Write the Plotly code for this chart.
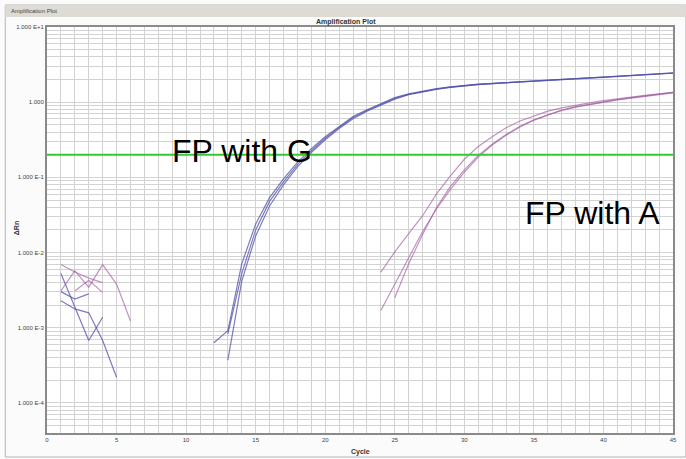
import plotly.graph_objects as go

# ---------------------------------------------------------------
# Real-time PCR amplification data (delta Rn per cycle), 6 wells.
# Each well: early baseline points, then the exponential/plateau
# phase; the gap between them holds values that vanish on a log axis.
# ---------------------------------------------------------------

# Wells amplified with the G probe (blue)
g1_base_cycles = [1, 2, 3, 4]
g1_base_rn = [5.25e-3, 1.86e-3, 6.76e-4, 1.38e-3]
g1_amp_start = 12
g1_amp_rn = [6.31e-4, 9.12e-4, 7.08e-3, 0.0240, 0.0537, 0.0955, 0.158, 0.240,
             0.347, 0.479, 0.646, 0.794, 0.955, 1.148, 1.288, 1.413, 1.514,
             1.603, 1.679, 1.738, 1.778, 1.828, 1.879, 1.928, 1.972, 2.018,
             2.065, 2.113, 2.163, 2.213, 2.265, 2.317, 2.371, 2.455]

g2_base_cycles = [1, 2, 3, 4, 5]
g2_base_rn = [2.29e-3, 1.78e-3, 1.58e-3, 6.76e-4, 2.19e-4]
g2_amp_start = 13
g2_amp_rn = [3.72e-4, 4.17e-3, 0.0166, 0.0417, 0.0794, 0.138, 0.214, 0.316,
             0.447, 0.603, 0.759, 0.912, 1.096, 1.259, 1.380, 1.479, 1.574,
             1.652, 1.714, 1.762, 1.811, 1.862, 1.910, 1.954, 2.000, 2.046,
             2.094, 2.143, 2.193, 2.244, 2.296, 2.355, 2.427]

g3_base_cycles = [1, 2, 3]
g3_base_rn = [3.02e-3, 2.40e-3, 2.82e-3]
g3_amp_start = 13
g3_amp_rn = [8.32e-4, 5.25e-3, 0.0200, 0.0479, 0.0871, 0.148, 0.226, 0.331,
             0.462, 0.624, 0.776, 0.933, 1.122, 1.274, 1.396, 1.496, 1.585,
             1.660, 1.722, 1.770, 1.820, 1.871, 1.919, 1.963, 2.009, 2.056,
             2.104, 2.153, 2.203, 2.254, 2.307, 2.360, 2.443]

# Wells amplified with the A probe (mauve)
a1_base_cycles = [1, 2, 3, 4]
a1_base_rn = [6.92e-3, 5.50e-3, 4.57e-3, 3.98e-3]
a1_amp_start = 24
a1_amp_rn = [5.50e-3, 0.0102, 0.0178, 0.0309, 0.0603, 0.105, 0.174, 0.257,
             0.347, 0.457, 0.562, 0.661, 0.759, 0.841, 0.912, 0.977, 1.047,
             1.109, 1.175, 1.230, 1.288, 1.349]

a2_base_cycles = [1, 2, 3, 4, 5, 6]
a2_base_rn = [3.09e-3, 5.75e-3, 3.47e-3, 6.92e-3, 3.80e-3, 1.23e-3]
a2_amp_start = 24
a2_amp_rn = [1.70e-3, 3.80e-3, 8.71e-3, 0.0191, 0.0380, 0.0692, 0.117, 0.186,
             0.269, 0.363, 0.468, 0.575, 0.676, 0.776, 0.861, 0.933, 1.000,
             1.072, 1.135, 1.202, 1.259, 1.334]

a3_base_cycles = [2, 3, 4]
a3_base_rn = [3.09e-3, 4.27e-3, 2.95e-3]
a3_amp_start = 25
a3_amp_rn = [2.51e-3, 7.08e-3, 0.0174, 0.0398, 0.0759, 0.126, 0.195, 0.275,
             0.372, 0.479, 0.582, 0.684, 0.785, 0.871, 0.944, 1.012, 1.084,
             1.148, 1.216, 1.274, 1.349]

threshold = 0.2

y_tick_vals = [1e-4, 1e-3, 1e-2, 1e-1, 1, 10]
y_tick_text = ["1.000 E-4", "1.000 E-3", "1.000 E-2", "1.000 E-1", "1.000", "1.000 E+1"]
x_tick_vals = [0, 5, 10, 15, 20, 25, 30, 35, 40, 45]

BLUE = "rgba(80,80,170,0.75)"
MAUVE = "rgba(160,90,160,0.65)"

wells = [
    (g1_base_cycles, g1_base_rn, g1_amp_start, g1_amp_rn, BLUE),
    (g2_base_cycles, g2_base_rn, g2_amp_start, g2_amp_rn, BLUE),
    (g3_base_cycles, g3_base_rn, g3_amp_start, g3_amp_rn, BLUE),
    (a1_base_cycles, a1_base_rn, a1_amp_start, a1_amp_rn, MAUVE),
    (a2_base_cycles, a2_base_rn, a2_amp_start, a2_amp_rn, MAUVE),
    (a3_base_cycles, a3_base_rn, a3_amp_start, a3_amp_rn, MAUVE),
]

fig = go.Figure()

for base_c, base_v, start, amp_v, color in wells:
    amp_c = list(range(start, start + len(amp_v)))
    xs = list(base_c) + [None] + amp_c
    ys = list(base_v) + [None] + list(amp_v)
    fig.add_trace(go.Scatter(x=xs, y=ys, mode="lines", connectgaps=False,
                             line=dict(color=color, width=1.2),
                             showlegend=False, hoverinfo="skip"))

# threshold line
fig.add_trace(go.Scatter(x=[0, 45], y=[threshold, threshold], mode="lines",
                         line=dict(color="#2ecc2e", width=2),
                         showlegend=False, hoverinfo="skip"))

# plot area spans 47..677 px horizontally, 27..433 px vertically
W, H = 686, 459
L, R, T, B = 47, 9, 27, 26
pw, ph = W - L - R, H - T - B


def px(x):
    return (x - L) / pw


def py(y):
    return (H - B - y) / ph


tick_font = dict(family="Liberation Sans, Arial, sans-serif", size=6, color="#444444")
grid = "#d2d2d2"

fig.update_layout(
    width=W, height=H,
    margin=dict(l=L, r=R, t=T, b=B),
    paper_bgcolor="#fbfbfb",
    plot_bgcolor="white",
    xaxis=dict(range=[0, 45], tickvals=x_tick_vals, ticks="", showgrid=True,
               gridcolor=grid, gridwidth=1, tickfont=tick_font,
               minor=dict(dtick=1, showgrid=True, gridcolor=grid, gridwidth=1),
               showline=True, linecolor="#8a8a8a", linewidth=2, mirror=True,
               zeroline=False),
    yaxis=dict(type="log", range=[-4.40, 1.0], tickvals=y_tick_vals,
               ticktext=y_tick_text, ticks="", showgrid=True, gridcolor=grid,
               gridwidth=1, tickfont=tick_font,
               minor=dict(tickvals=[m * 10 ** e for e in range(-5, 1) for m in range(2, 10)],
                          showgrid=True, gridcolor=grid, gridwidth=1),
               showline=True, linecolor="#8a8a8a", linewidth=2, mirror=True,
               zeroline=False),
    font=dict(family="Liberation Sans, Arial, sans-serif"),
)

# window frame and title bar
fig.add_shape(type="rect", xref="paper", yref="paper",
              x0=px(5), x1=px(690), y0=py(457), y1=py(5),
              line=dict(color="#b4b4b4", width=1), fillcolor="rgba(0,0,0,0)", layer="below")
fig.add_shape(type="rect", xref="paper", yref="paper",
              x0=px(5), x1=px(690), y0=py(17), y1=py(5),
              line=dict(width=0), fillcolor="#dedbd5", layer="below")
fig.add_annotation(text="Amplification Plot", xref="paper", yref="paper",
                   x=px(9), y=py(11), xanchor="left", yanchor="middle",
                   showarrow=False, font=dict(size=6, color="#444444"))

# chart title and axis titles
fig.add_annotation(text="<b>Amplification Plot</b>", xref="paper", yref="paper",
                   x=px(348), y=py(22), xanchor="center", yanchor="middle",
                   showarrow=False, font=dict(size=7, color="#333333"))
fig.add_annotation(text="<b>Cycle</b>", xref="paper", yref="paper",
                   x=px(362), y=py(452), xanchor="center", yanchor="middle",
                   showarrow=False, font=dict(size=7, color="#333333"))
fig.add_annotation(text="<b>ΔRn</b>", xref="paper", yref="paper",
                   x=px(16), y=py(228), xanchor="center", yanchor="middle",
                   textangle=-90, showarrow=False, font=dict(size=7, color="#333333"))

# labels for the two probe groups
fig.add_annotation(text="FP with G", xref="x", yref="paper",
                   x=(171 - L) / 14, y=py(151), xanchor="left", yanchor="middle",
                   showarrow=False,
                   font=dict(size=32, color="black", family="Liberation Sans, Arial, sans-serif"))
fig.add_annotation(text="FP with A", xref="x", yref="paper",
                   x=(526 - L) / 14, y=py(213), xanchor="left", yanchor="middle",
                   showarrow=False,
                   font=dict(size=32, color="black", family="Liberation Sans, Arial, sans-serif"))

fig.write_html("out.html")
